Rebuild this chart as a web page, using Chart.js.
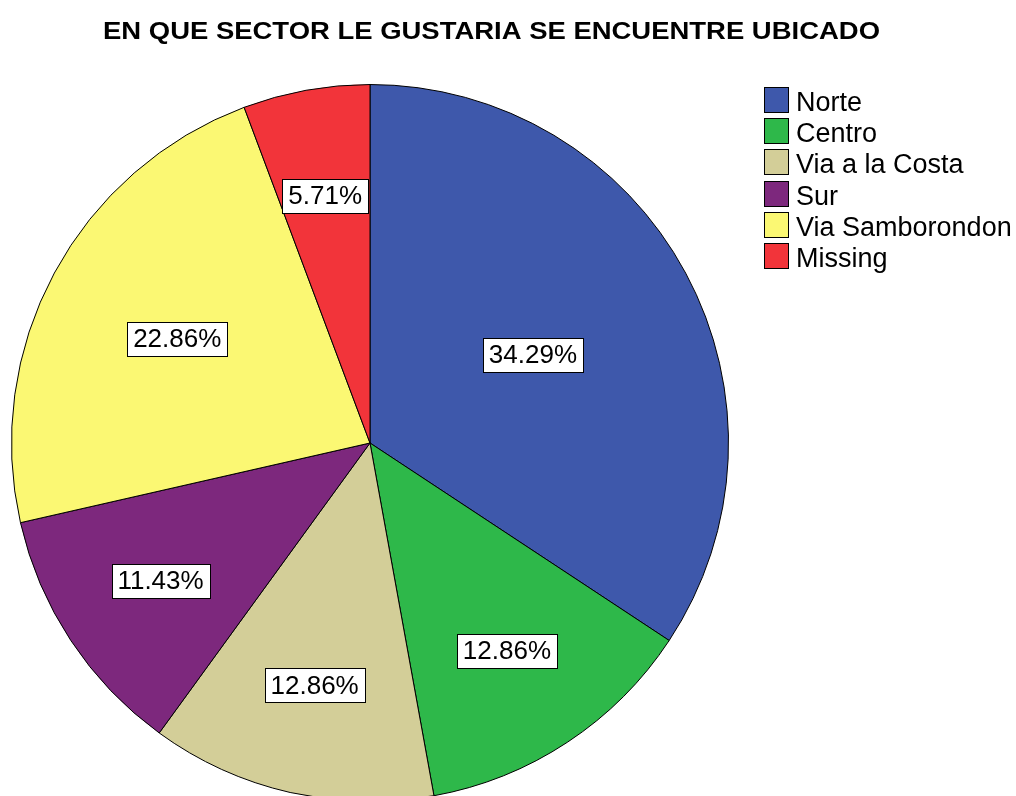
<!DOCTYPE html>
<html>
<head>
<meta charset="utf-8">
<script src="https://cdn.jsdelivr.net/npm/chart.js@4/dist/chart.umd.min.js"></script>
<style>
  html, body { margin: 0; padding: 0; background: #fff; overflow: hidden; }
  #grafico { display: block; }
</style>
</head>
<body>
<canvas id="grafico" width="1016" height="830"></canvas>
<script>
// datos del grafico
const titulo = "EN QUE SECTOR LE GUSTARIA SE ENCUENTRE UBICADO";
const sectores = ["Norte", "Centro", "Via a la Costa", "Sur", "Via Samborondon", "Missing"];
const porcentajes = [34.29, 12.86, 12.86, 11.43, 22.86, 5.71];
const colores = ["#3E58AB", "#2EB84A", "#D3CE98", "#7D287D", "#FBF873", "#F2343A"];

const fuente = "'Liberation Sans', Arial, sans-serif";

// etiquetas, titulo y leyenda dibujados a mano
const extras = {
  id: "extras",
  afterDraw(chart) {
    const ctx = chart.ctx;
    const meta = chart.getDatasetMeta(0);

    // etiquetas de porcentaje
    ctx.save();
    ctx.font = "26px " + fuente;
    ctx.textAlign = "center";
    ctx.textBaseline = "middle";
    meta.data.forEach((arc, i) => {
      const p = arc.getProps(["x", "y", "startAngle", "endAngle", "outerRadius"], true);
      const mid = (p.startAngle + p.endAngle) / 2;
      const spanDeg = (p.endAngle - p.startAngle) * 180 / Math.PI;
      const f = Math.min(0.70, 0.80 - 0.0023 * spanDeg);
      const cx = p.x + Math.cos(mid) * p.outerRadius * f;
      const cy = p.y + Math.sin(mid) * p.outerRadius * f;
      const txt = porcentajes[i].toFixed(2) + "%";
      const w = Math.round(ctx.measureText(txt).width + 12);
      const h = 34;
      const bx = Math.round(cx - w / 2) + 0.5;
      const by = Math.round(cy - h / 2) + 0.5;
      ctx.fillStyle = "#fff";
      ctx.fillRect(bx, by, w, h);
      ctx.strokeStyle = "#000";
      ctx.lineWidth = 1;
      ctx.strokeRect(bx, by, w, h);
      ctx.fillStyle = "#000";
      ctx.fillText(txt, cx, cy + 1);
    });
    ctx.restore();

    // titulo
    ctx.save();
    ctx.font = "bold 24px " + fuente;
    ctx.fillStyle = "#000";
    ctx.textBaseline = "alphabetic";
    const tw = ctx.measureText(titulo).width;
    ctx.translate(103, 39);
    ctx.scale(777 / tw, 1);
    ctx.fillText(titulo, 0, 0);
    ctx.restore();

    // leyenda
    ctx.save();
    ctx.font = "27px " + fuente;
    ctx.textBaseline = "alphabetic";
    sectores.forEach((s, i) => {
      const y = Math.round(87 + i * 31.2) + 0.5;
      ctx.fillStyle = colores[i];
      ctx.fillRect(764.5, y, 24, 25);
      ctx.strokeStyle = "#000";
      ctx.lineWidth = 1;
      ctx.strokeRect(764.5, y, 24, 25);
      ctx.fillStyle = "#000";
      ctx.fillText(s, 796, y + 23);
    });
    ctx.restore();
  }
};

const ctx = document.getElementById("grafico");

new Chart(ctx, {
  type: "pie",
  data: {
    labels: sectores,
    datasets: [
      {
        data: porcentajes,
        backgroundColor: colores,
        borderColor: "#000",
        borderWidth: 1,
      },
    ],
  },
  options: {
    responsive: false,
    animation: false,
    devicePixelRatio: 1,
    events: [],
    layout: {
      padding: { left: 11, top: 84, right: 287, bottom: 28 },
    },
    plugins: {
      legend: { display: false },
      title: { display: false },
      tooltip: { enabled: false },
    },
  },
  plugins: [extras],
});
</script>
</body>
</html>
